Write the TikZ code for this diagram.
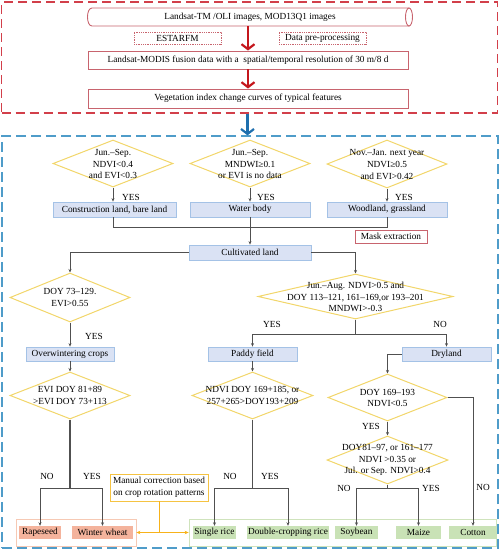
\documentclass[tikz,border=0pt]{standalone}
\usepackage{fontspec}
\setmainfont{Liberation Serif}
\usetikzlibrary{shapes.geometric,arrows.meta}
\definecolor{reddash}{HTML}{D23F4A}
\definecolor{redbd}{HTML}{C8646E}
\definecolor{bluedash}{HTML}{4F9CC9}
\definecolor{bluebd}{HTML}{A4C2E6}
\definecolor{bluefill}{HTML}{DAE2F4}
\definecolor{yel}{HTML}{F2D66A}
\definecolor{lin}{HTML}{505050}
\definecolor{orbd}{HTML}{F6C9B4}
\definecolor{orfill}{HTML}{F4B39C}
\definecolor{grbd}{HTML}{CFE3BC}
\definecolor{grfill}{HTML}{C9E2B6}
\definecolor{manbd}{HTML}{F5C342}
\definecolor{manar}{HTML}{F7B21A}
\definecolor{bigred}{HTML}{C4161C}
\definecolor{bigblue}{HTML}{1F6FAE}
\begin{document}
\begin{tikzpicture}[x=1pt,y=-1pt,font=\fontsize{9.3}{11.5}\selectfont,
  redgroup/.style={draw=reddash,dash pattern=on 9pt off 5pt,line width=1.3pt,inner sep=0pt},
  bluegroup/.style={draw=bluedash,dash pattern=on 10pt off 5pt,line width=1.3pt,inner sep=0pt},
  cylline/.style={draw=redbd,line width=0.9pt,fill=white},
  redbox/.style={draw=redbd,line width=0.9pt,fill=white,inner sep=0pt},
  redsmall/.style={draw=redbd,densely dotted,line width=0.8pt,inner sep=0pt},
  bluebox/.style={draw=bluebd,fill=bluefill,line width=0.8pt,inner sep=0pt},
  dia/.style={diamond,draw=yel,line width=1pt,fill=white,inner sep=0pt},
  dtext/.style={align=center,inner sep=0pt,font=\fontsize{9.3}{11.8}\selectfont},
  conn/.style={draw=lin,line width=0.75pt},
  arr/.style={conn,-{Stealth[length=3.5pt,width=3pt]}},
  lab/.style={inner sep=0pt},
  orbox/.style={fill=orfill,inner sep=0pt,minimum height=13pt},
  grbox/.style={fill=grfill,inner sep=0pt,minimum height=13pt},
  bigarr/.style={draw=#1,line width=2.2pt,-{Straight Barb[length=5pt,width=13pt]}},
  manline/.style={draw=manar,line width=0.9pt}
]
\useasboundingbox (0,0) rectangle (500,550);
% groups
\node[redgroup,minimum width=496pt,minimum height=111pt] (rg) at (249.5,57.5) {};
\node[bluegroup,minimum width=496pt,minimum height=412pt] (bg) at (250,342) {};
% top part: cylinder
\path[cylline] (409,8) -- (92,8) .. controls (86,8) and (86,26) .. (92,26) -- (409,26) -- cycle;
\path[cylline] (409,17) ellipse [x radius=3.5, y radius=9];
\node[inner sep=0pt,minimum width=324pt,minimum height=18pt] (src) at (250,17) {Landsat-TM /OLI images, MOD13Q1 images};
\node[redsmall,minimum width=87pt,minimum height=12pt] (est) at (177.5,38) {ESTARFM};
\node[redsmall,minimum width=87pt,minimum height=12pt] (pre) at (322.5,38) {Data pre-processing};
\node[redbox,minimum width=320pt,minimum height=18pt] (fus) at (248,60) {Landsat-MODIS fusion data with a\ \ spatial/temporal resolution of 30 m/8 d};
\node[redbox,minimum width=320pt,minimum height=19pt] (veg) at (248,98.5) {Vegetation index change curves of typical features};
\draw[bigarr=bigred] (src.south -| fus.north) -- (fus.north);
\draw[bigarr=bigred] (fus.south) -- (veg.north);
\draw[bigarr=bigblue] ([xshift=-2pt]rg.south) -- ([xshift=-2pt]rg.south |- bg.north);
% first diamond row
\node[dia,minimum width=120pt,minimum height=47pt] (d1) at (113,163.5) {};
\node[dtext] (d1t) at (113,164) {Jun.–Sep.\\NDVI<0.4\\and EVI<0.3};
\node[dia,minimum width=120pt,minimum height=47pt] (d2) at (250,163.5) {};
\node[dtext] (d2t) at (250,164) {Jun.–Sep.\\MNDWI≥0.1\\or EVI is no data};
\node[dia,minimum width=120pt,minimum height=48pt] (d3) at (387,164) {};
\node[dtext] (d3t) at (387,164.5) {Nov.–Jan. next year\\NDVI≥0.5\\and EVI>0.42};
\node[bluebox,minimum width=123pt,minimum height=15pt] (b1) at (114.5,209.5) {Construction land, bare land};
\node[bluebox,minimum width=120pt,minimum height=15pt] (b2) at (250,209.5) {Water body};
\node[bluebox,minimum width=120pt,minimum height=15pt] (b3) at (387,209.5) {Woodland, grassland};
\draw[arr] (d1.south) -- (d1.south |- b1.north);
\draw[arr] (d2.south) -- (d2.south |- b2.north);
\draw[arr] (d3.south) -- (d3.south |- b3.north);
\node[lab] (y1) at (131,197) {YES};
\node[lab] (y2) at (266,197) {YES};
\node[lab] (y3) at (404,197) {YES};
\node[redbox,minimum width=72pt,minimum height=13pt] (mask) at (391,236.5) {Mask extraction};
\node[bluebox,minimum width=122pt,minimum height=15pt] (cult) at (250,252.5) {Cultivated land};
\draw[conn] (d1.south |- b1.south) -- (113,227) -| (d3.south |- b3.south);
\draw[arr] (b2.south) -- (cult.north);
% second level
\node[dia,minimum width=120pt,minimum height=49pt] (d4) at (70,297.5) {};
\node[dtext] (d4t) at (70,297.5) {DOY 73–129.\\EVI>0.55};
\node[dia,minimum width=195pt,minimum height=45pt] (d5) at (355.5,296.5) {};
\node[dtext] (d5t) at (355.5,297) {Jun.–Aug. NDVI>0.5 and\\DOY 113–121, 161–169,or 193–201\\MNDWI>-0.3};
\draw[arr] (cult.west) -| (d4.north);
\draw[arr] (cult.east) -| (d5.north);
\node[bluebox,minimum width=88pt,minimum height=14pt] (ow) at (70,354) {Overwintering crops};
\node[bluebox,minimum width=89pt,minimum height=14pt] (paddy) at (252.5,354) {Paddy field};
\node[bluebox,minimum width=89pt,minimum height=14pt] (dry) at (446.5,354) {Dryland};
\draw[arr] (d4.south) -- (ow.north);
\node[lab] (y4) at (94,336) {YES};
\coordinate (j5) at (355.5,334);
\draw[conn] (d5.south) -- (j5);
\draw[arr] (j5) -| (paddy.north);
\draw[arr] (j5) -| (dry.north);
\node[lab] (y5) at (272,324) {YES};
\node[lab] (n5) at (440,324) {NO};
% third level
\node[dia,minimum width=120pt,minimum height=47pt] (d6) at (70,395.5) {};
\node[dtext] (d6t) at (70,395.5) {EVI DOY 81+89\\>EVI DOY 73+113};
\node[dia,minimum width=121pt,minimum height=47pt] (d7) at (252.5,395.5) {};
\node[dtext] (d7t) at (252.5,395.5) {NDVI DOY 169+185, or\\257+265>DOY193+209};
\node[dia,minimum width=119pt,minimum height=47pt] (d8) at (387.5,397.5) {};
\node[dtext] (d8t) at (387.5,398) {DOY 169–193\\NDVI<0.5};
\node[dia,minimum width=121pt,minimum height=48pt] (d9) at (387.5,460) {};
\node[dtext] (d9t) at (387.5,460) {DOY81–97, or 161–177\\NDVI >0.35 or\\Jul. or Sep. NDVI>0.4};
\draw[arr] (ow.south) -- (d6.north);
\draw[arr] (paddy.south) -- (d7.north);
\draw[arr] (dry.west) -| (d8.north);
\draw[arr] (d8.south) -- (d9.north);
\node[lab] (y8) at (371,426) {YES};
% bottom
\node[draw=orbd,line width=0.8pt,minimum width=120pt,minimum height=27pt,inner sep=0pt] (og) at (76,532.5) {};
\node[draw=grbd,line width=0.8pt,minimum width=307pt,minimum height=27pt,inner sep=0pt] (gg) at (342.5,532.5) {};
\node[orbox,minimum width=42pt] (rape) at (40,532.5) {Rapeseed};
\node[orbox,minimum width=61pt] (wheat) at (102.5,532.5) {Winter wheat};
\node[grbox,minimum width=43pt] (single) at (214.5,532.5) {Single rice};
\node[grbox,minimum width=82pt] (double) at (288,532.5) {Double-cropping rice};
\node[grbox,minimum width=43pt] (soy) at (356.5,532.5) {Soybean};
\node[grbox,minimum width=45pt] (maize) at (418.5,532.5) {Maize};
\node[grbox,minimum width=48pt] (cotton) at (473,532.5) {Cotton};
\coordinate (j6) at (70,488);
\draw[conn,line width=1.8pt] (d6.south) -- (j6);
\draw[arr] (j6) -| (rape.north);
\draw[arr] (j6) -| (wheat.north);
\node[lab] (n6) at (47,476) {NO};
\node[lab] (y6) at (92,476) {YES};
\coordinate (j7) at (252.5,488);
\draw[conn] (d7.south) -- (j7);
\draw[arr] (j7) -| (single.north);
\draw[arr] (j7) -| (double.north);
\node[lab] (n7) at (230,476) {NO};
\node[lab] (y7) at (270,476) {YES};
\coordinate (j9) at (387.5,488.5);
\draw[conn] (d9.south) -- (j9);
\draw[arr] (j9) -| (soy.north);
\draw[arr] (j9) -| (maize.north);
\node[lab] (n9) at (344,488) {NO};
\node[lab] (y9) at (431,488) {YES};
\draw[arr] (d8.east) -| (cotton.north);
\node[lab] (n8) at (483,487) {NO};
\node[draw=manbd,line width=0.9pt,fill=white,align=center,minimum width=98pt,minimum height=27pt,inner sep=0pt] (man) at (159,487.5) {Manual correction based\\on crop rotation patterns};
\coordinate (mj) at (man.south |- og.east);
\draw[manline] (man.south) -- (mj);
\draw[manline,{Stealth[length=4pt,width=3.5pt]}-{Stealth[length=4pt,width=3.5pt]}] (og.east) -- (gg.west);
\end{tikzpicture}
\end{document}
